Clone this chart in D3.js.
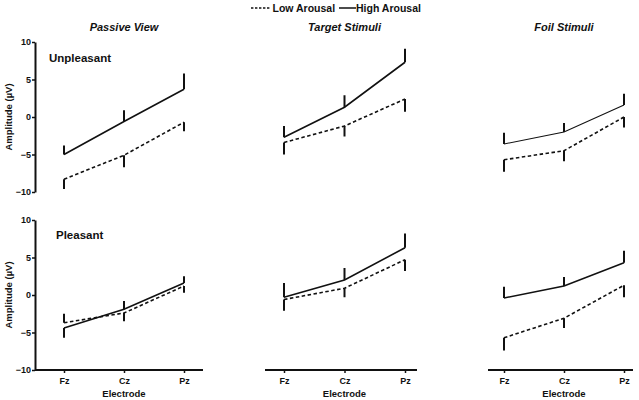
<!DOCTYPE html>
<html>
<head>
<meta charset="utf-8">
<script src="https://cdn.jsdelivr.net/npm/d3@7"></script>
<style>
  body { margin: 0; background: #fff; }
  svg { display: block; font-family: "Liberation Sans", Arial, sans-serif; }
</style>
</head>
<body>
<svg id="chart" width="639" height="400"></svg>
<script>
// ---- data ----
const electrodes = ["Fz", "Cz", "Pz"];
const conditions = ["Passive View", "Target Stimuli", "Foil Stimuli"];
const valences = ["Unpleasant", "Pleasant"];
const yTicks = [-10, -5, 0, 5, 10];
const seriesNames = ["Low Arousal", "High Arousal"];

// Unpleasant row: [Passive, Target, Foil]
const unpleasantHigh = [[-5.0, -0.6, 3.7], [-2.7, 1.3, 7.3], [-3.6, -2.0, 1.6]];
const unpleasantHighErr = [[1.2, 1.5, 2.1], [1.5, 1.6, 1.8], [1.5, 1.2, 1.5]];
const unpleasantLow = [[-8.3, -5.1, -0.7], [-3.4, -1.2, 2.4], [-5.7, -4.5, 0.0]];
const unpleasantLowErr = [[-1.3, -1.6, -1.2], [-1.6, -1.4, -1.7], [-1.6, -1.4, -1.4]];

// Pleasant row: [Passive, Target, Foil]
const pleasantHigh = [[-4.4, -1.9, 1.6], [-0.3, 2.0, 6.3], [-0.4, 1.2, 4.3]];
const pleasantHighErr = [[-1.3, 1.1, 0.9], [1.9, 1.6, 1.9], [1.5, 1.2, 1.6]];
const pleasantLow = [[-3.7, -2.4, 1.2], [-0.6, 0.9, 4.7], [-5.7, -3.1, 1.3]];
const pleasantLowErr = [[1.2, -1.1, -0.9], [-1.5, -1.2, -1.5], [-1.7, -1.3, -1.6]];

// ---- layout ----
const svg = d3.select("#chart");
const colX = [[64, 184], [284, 405], [504, 624]];     // Fz..Pz positions
const colAxis = [[35, 203], [265, 417], [488, 633]];  // x-axis line extents
const rowY = [[192, 42], [370, 220]];                 // y range (-10 -> 10)

const rows = [
  { label: valences[0], high: unpleasantHigh, highErr: unpleasantHighErr, low: unpleasantLow, lowErr: unpleasantLowErr, labelPos: [49, 62] },
  { label: valences[1], high: pleasantHigh, highErr: pleasantHighErr, low: pleasantLow, lowErr: pleasantLowErr, labelPos: [56, 239] }
];

const ink = "#111";

// Legend
const leg = svg.append("g").attr("font-size", 10.5).attr("font-weight", "bold").attr("fill", ink);
leg.append("line").attr("x1", 251).attr("x2", 270).attr("y1", 8).attr("y2", 8)
  .attr("stroke", ink).attr("stroke-width", 1.5).attr("stroke-dasharray", "2.4,1.6");
leg.append("text").attr("x", 272.5).attr("y", 12).text(seriesNames[0]);
leg.append("line").attr("x1", 339).attr("x2", 356).attr("y1", 8).attr("y2", 8)
  .attr("stroke", ink).attr("stroke-width", 1.5);
leg.append("text").attr("x", 356).attr("y", 12).text(seriesNames[1]);

// Column titles
conditions.forEach((c, ci) => {
  const x = d3.scalePoint().domain(electrodes).range(colX[ci]);
  svg.append("text").attr("x", x("Cz")).attr("y", 31).attr("text-anchor", "middle")
    .attr("font-size", 11).attr("font-weight", "bold").attr("font-style", "italic").attr("fill", ink)
    .text(c);
});

rows.forEach((row, ri) => {
  const y = d3.scaleLinear().domain([-10, 10]).range(rowY[ri]);

  // y axis (left column only)
  const ya = svg.append("g").attr("transform", `translate(${colAxis[0][0]},0)`)
    .call(d3.axisLeft(y).tickValues(yTicks).tickSize(3).tickSizeOuter(0).tickFormat(d3.format("d")));
  ya.select(".domain").attr("stroke", ink).attr("stroke-width", 2);
  ya.selectAll(".tick line").attr("stroke", ink).attr("stroke-width", 1.5);
  ya.selectAll(".tick text").attr("font-size", 9).attr("font-weight", "bold").attr("fill", ink)
    .attr("font-family", "Liberation Sans, Arial, sans-serif").attr("x", -4);

  // y label
  svg.append("text").attr("transform", `translate(12,${y(0)}) rotate(-90)`)
    .attr("text-anchor", "middle").attr("font-size", 9.5).attr("font-weight", "bold").attr("fill", ink)
    .text("Amplitude (µV)");

  // row label
  svg.append("text").attr("x", row.labelPos[0]).attr("y", row.labelPos[1])
    .attr("font-size", 11.5).attr("font-weight", "bold").attr("fill", ink).text(row.label);

  conditions.forEach((c, ci) => {
    const x = d3.scalePoint().domain(electrodes).range(colX[ci]);
    const g = svg.append("g");

    // x axis (bottom row only)
    if (ri === 1) {
      g.append("line").attr("x1", colAxis[ci][0]).attr("x2", colAxis[ci][1])
        .attr("y1", y(-10)).attr("y2", y(-10)).attr("stroke", ink).attr("stroke-width", 2);
      const xa = g.append("g").attr("transform", `translate(0,${y(-10)})`)
        .call(d3.axisBottom(x).tickSize(3).tickSizeOuter(0));
      xa.select(".domain").remove();
      xa.selectAll(".tick line").attr("stroke", ink).attr("stroke-width", 1.5);
      xa.selectAll(".tick text").attr("font-size", 9).attr("font-weight", "bold").attr("fill", ink)
        .attr("font-family", "Liberation Sans, Arial, sans-serif").attr("dy", "0.9em");
      g.append("text").attr("x", x("Cz")).attr("y", 397).attr("text-anchor", "middle")
        .attr("font-size", 9.5).attr("font-weight", "bold").attr("fill", ink).text("Electrode");
    }

    const line = d3.line().x((d, i) => x(electrodes[i])).y(d => y(d));
    const series = [
      { vals: row.low[ci], err: row.lowErr[ci], dash: "3.5,2.5" },
      { vals: row.high[ci], err: row.highErr[ci], dash: null }
    ];
    series.forEach((s, si) => {
      const thin = (ri === 0 && ci === 2 && si === 1);
      g.append("path").datum(s.vals).attr("d", line).attr("fill", "none")
        .attr("stroke", ink).attr("stroke-width", thin ? 1.1 : 1.6)
        .attr("stroke-dasharray", s.dash);
      g.selectAll(null).data(s.vals).enter().append("line")
        .attr("x1", (d, i) => x(electrodes[i])).attr("x2", (d, i) => x(electrodes[i]))
        .attr("y1", d => y(d)).attr("y2", (d, i) => y(d + s.err[i]))
        .attr("stroke", ink).attr("stroke-width", 2);
    });
  });
});
</script>
</body>
</html>
